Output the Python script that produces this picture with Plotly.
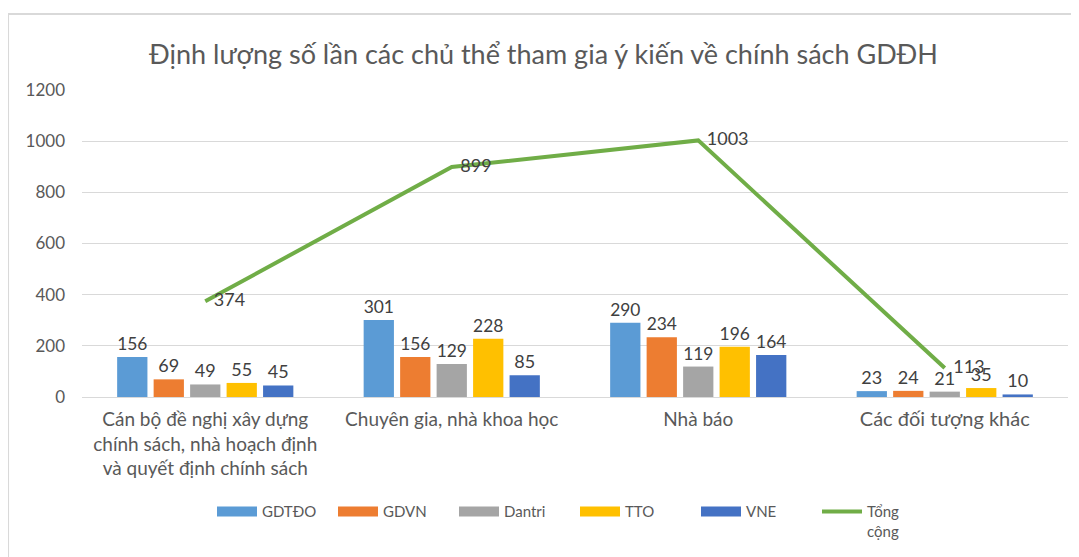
import plotly.graph_objects as go

categories = ["Cán bộ đề nghị xây dựng<br>chính sách, nhà hoạch định<br>và quyết định chính sách",
              "Chuyên gia, nhà khoa học", "Nhà báo", "<span style='font-size:20px'>Các đối tượng khác</span>"]
series_names = ["GDTĐO", "GDVN", "Dantri", "TTO", "VNE"]
gdtdo = [156, 301, 290, 23]
gdvn = [69, 156, 234, 24]
dantri = [49, 129, 119, 21]
tto = [55, 228, 196, 35]
vne = [45, 85, 164, 10]
tong_cong = [374, 899, 1003, 113]
y_ticks = [0, 200, 400, 600, 800, 1000, 1200]

colors = ["#5B9BD5", "#ED7D31", "#A5A5A5", "#FFC000", "#4472C4"]
FONT = "Lato"
TXT = "#404040"

fig = go.Figure()
for name, vals, col in zip(series_names, [gdtdo, gdvn, dantri, tto, vne], colors):
    fig.add_trace(go.Bar(
        x=categories, y=vals, name=name, marker=dict(color=col, line=dict(width=0)),
        text=vals, textposition="outside", cliponaxis=False, showlegend=False,
        textfont=dict(size=18, color=TXT, family=FONT),
    ))
fig.add_trace(go.Scatter(
    x=categories, y=tong_cong, name="Tổng<br>cộng", mode="lines+markers+text",
    line=dict(color="#70AD47", width=4),
    marker=dict(size=12, color="rgba(0,0,0,0)"),
    text=tong_cong, textposition="middle right", showlegend=False,
    textfont=dict(size=18, color=TXT, family=FONT), cliponaxis=False,
))
# legend entries (Excel-style wide swatches)
for name, col in zip(series_names, colors):
    fig.add_trace(go.Scatter(x=[categories[0]], y=[None], mode="lines", name=name,
                             line=dict(color=col, width=10), hoverinfo="skip"))
fig.add_trace(go.Scatter(x=[categories[0]], y=[None], mode="lines", name="Tổng<br>cộng",
                         line=dict(color="#70AD47", width=4), hoverinfo="skip"))

fig.update_layout(
    width=1071, height=549,
    margin=dict(l=74, r=11, t=82, b=160, autoexpand=False),
    paper_bgcolor="white", plot_bgcolor="white",
    barmode="group", bargap=0.26, bargroupgap=0.17,
    font=dict(family=FONT, color="#595959", size=16),
    title=dict(text="Định lượng số lần các chủ thể tham gia ý kiến về chính sách GDĐH",
               x=0.5, xanchor="center", y=0.915, yanchor="middle",
               font=dict(size=27, color="#595959", family=FONT)),
    showlegend=True,
    legend=dict(orientation="h", x=0.5, xanchor="center", y=-0.32, yanchor="top",
                font=dict(size=15, color="#595959", family=FONT), traceorder="normal",
                itemwidth=40, valign="top", entrywidth=66, entrywidthmode="pixels"),
    yaxis=dict(range=[0, 1200], tickvals=y_ticks, showgrid=True, gridcolor="#D9D9D9",
               gridwidth=1, zeroline=True, zerolinecolor="#D9D9D9", zerolinewidth=1,
               tickfont=dict(size=17, color="#595959", family=FONT), ticks="",
               showline=False, ticklabelstandoff=16, automargin=False),
    xaxis=dict(showline=False, ticks="", tickfont=dict(size=19, color="#595959", family=FONT),
               tickangle=0, automargin=False, ticklabelstandoff=9),
    shapes=[dict(type="rect", xref="paper", yref="paper", x0=-0.075, x1=1.2,
                 y0=-0.8, y1=1.2476, line=dict(color="#D9D9D9", width=2), layer="below")],
)
fig.write_html("out.html")
